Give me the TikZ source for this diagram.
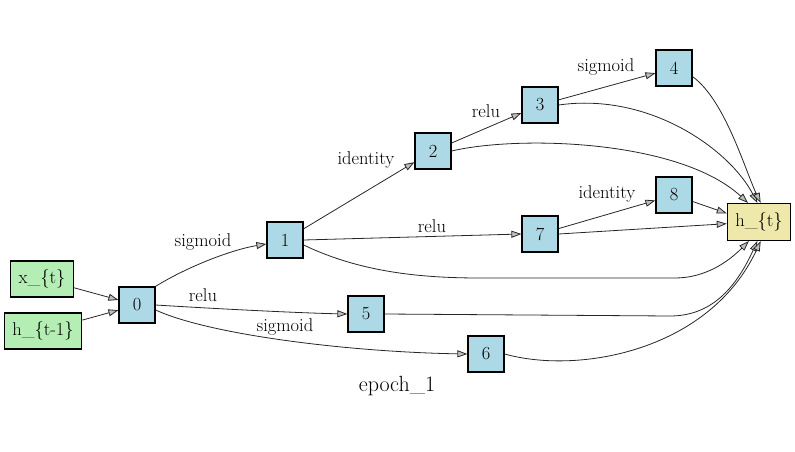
\documentclass[tikz,border=0pt]{standalone}
\usepackage{fontspec}
\usepackage{tikz}
\usetikzlibrary{arrows.meta}
\definecolor{opblue}{HTML}{ADD8E6}
\definecolor{ingreen}{HTML}{B4EEB4}
\definecolor{outyellow}{HTML}{EEE8AA}

\tikzset{
    op/.style={draw=black, line width=1.2pt, fill=opblue, minimum width=36pt, minimum height=36pt, inner sep=0pt, font=\fontsize{18.5}{21}\selectfont},
    inbox/.style={op, fill=ingreen, minimum width=0pt, inner xsep=8pt},
    outbox/.style={op, fill=outyellow, minimum width=0pt, inner xsep=8pt},
    edge/.style={draw=black!85, line width=0.8pt, -{Triangle[length=10pt,width=7pt,fill=black!25]}},
    lab/.style={font=\fontsize{18.5}{21}\selectfont, inner sep=0pt}
}

\begin{document}
\begin{tikzpicture}[x=1pt, y=1pt]
    \useasboundingbox (0,0) rectangle (795,-452);

    % Inputs
    \node[inbox] (xt) at (42,-279) {x\_\{t\}};
    \node[inbox] (hprev) at (43,-331) {h\_\{t-1\}};
    % Operations
    \node[op] (n0) at (137,-305) {0};
    \node[op] (n1) at (285,-240) {1};
    \node[op] (n2) at (433,-151) {2};
    \node[op] (n3) at (540,-105) {3};
    \node[op] (n4) at (674,-68) {4};
    \node[op] (n5) at (366,-314) {5};
    \node[op] (n6) at (486,-354) {6};
    \node[op] (n7) at (540,-234) {7};
    \node[op] (n8) at (674,-195) {8};
    % Output
    \node[outbox, minimum height=37pt] (ht) at (759,-222) {h\_\{t\}};

    % Straight edges
    \draw[edge] (xt) -- (n0);
    \draw[edge] (hprev) -- (n0);
    \draw[edge] (n1) -- (n2);
    \draw[edge] (n1.east) -- (n7.west);
    \draw[edge] (n2) -- (n3);
    \draw[edge] (n3) -- (n4);
    \draw[edge] (n7) -- (n8);
    \draw[edge] (n8) -- (ht.165);
    \draw[edge] (n7.east) -- (ht.183);

    % Curved edges
    \draw[edge] (n0.north east) .. controls (185,-268) and (230,-250) .. (n1.192);
    \draw[edge] (n0.east) .. controls (220,-309) and (300,-313) .. (n5.west);
    \draw[edge] (n0.345) .. controls (210,-335) and (350,-352) .. (n6.west);
    \draw[edge] (n1.345) .. controls (360,-272) and (420,-278) .. (480,-278) -- (675,-278) .. controls (705,-278) and (728,-262) .. (ht.242);
    \draw[edge] (n2.east) .. controls (520,-135) and (680,-140) .. (ht.120);
    \draw[edge] (n3.east) .. controls (650,-92) and (730,-150) .. (ht.95);
    \draw[edge] (n4.335) .. controls (725,-100) and (745,-170) .. (ht.85);
    \draw[edge] (n5.east) -- (670,-316) .. controls (710,-316) and (735,-290) .. (ht.265);
    \draw[edge] (n6.east) .. controls (580,-375) and (710,-350) .. (ht.275);

    % Edge labels
    \node[lab] (l01) at (203,-242) {sigmoid};
    \node[lab] (l05) at (203,-295) {relu};
    \node[lab] (l06) at (285,-327) {sigmoid};
    \node[lab] (l12) at (366,-160) {identity};
    \node[lab] (l23) at (486,-111) {relu};
    \node[lab] (l34) at (606,-67) {sigmoid};
    \node[lab] (l17) at (432,-226) {relu};
    \node[lab] (l78) at (607,-194) {identity};

    % Title
    \node[font=\fontsize{22}{26}\selectfont] (title) at (397,-386) {epoch\_1};
\end{tikzpicture}
\end{document}
